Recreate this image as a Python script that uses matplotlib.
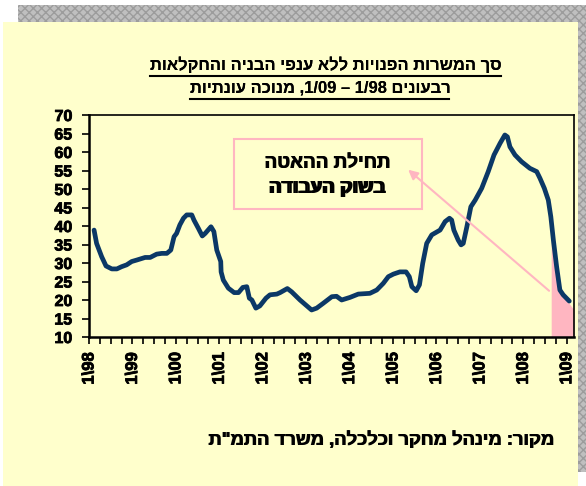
import re
import numpy as np
import matplotlib
matplotlib.use("Agg")
import matplotlib.pyplot as plt
import matplotlib.patheffects as pe
from matplotlib.patches import Rectangle
from matplotlib.lines import Line2D

FAMILY = ['Liberation Sans', 'DejaVu Sans']
plt.rcParams['font.family'] = FAMILY
plt.rcParams['font.weight'] = 'bold'

# months since 1/98 and vacancies (thousands), seasonally adjusted
months = [1.4, 2.1, 3.5, 4.7, 6.3, 7.7, 9.0, 10.4, 11.8, 13.2, 15.5, 16.9,
          18.7, 20.1, 21.5, 22.6, 23.5, 24.2, 25.1, 26.1, 27.0, 28.4, 29.0,
          30.2, 31.3, 32.1, 33.7, 34.5, 35.3, 36.4, 36.5, 37.1, 38.5, 40.1,
          41.3, 42.5, 43.6, 44.3, 45.0, 46.1, 47.2, 48.9, 50.0, 51.9, 52.8,
          54.8, 56.0, 58.3, 61.5, 62.9, 64.7, 67.1, 68.4, 69.8, 72.1, 74.4,
          77.6, 79.5, 81.3, 82.7, 84.1, 85.9, 87.6, 88.5, 89.2, 90.4, 91.3,
          92.2, 93.3, 94.7, 97.0, 98.4, 99.6, 100.2, 100.8, 102.0, 102.8,
          103.4, 104.4, 105.5, 106.7, 108.5, 110.3, 111.9, 113.6, 114.9,
          115.6, 116.3, 117.7, 119.5, 121.8, 123.7, 124.6, 125.8, 126.9,
          127.6, 128.3, 129.2, 130.1, 131.0, 132.7]
vacancies = [38.9, 35.3, 31.7, 29.2, 28.4, 28.4, 29.0, 29.5, 30.4, 30.8, 31.5,
             31.5, 32.4, 32.6, 32.6, 33.5, 37.1, 38.0, 40.3, 42.1, 43.0, 43.0,
             41.6, 39.4, 37.3, 38.0, 39.8, 38.5, 33.5, 30.4, 27.6, 25.4, 23.2,
             22.0, 22.0, 23.4, 23.6, 20.5, 20.0, 17.8, 18.4, 20.5, 21.4, 21.6,
             22.0, 23.1, 22.2, 20.0, 17.3, 17.8, 19.1, 20.9, 21.0, 20.0, 20.7,
             21.6, 21.8, 22.7, 24.5, 26.3, 27.0, 27.6, 27.6, 26.3, 23.6, 22.5,
             24.1, 29.9, 35.3, 37.6, 38.9, 41.2, 42.1, 41.6, 38.9, 36.2, 34.9,
             35.3, 39.8, 45.2, 47.0, 50.2, 54.7, 59.2, 62.4, 64.6, 64.1, 61.4,
             59.2, 57.4, 55.6, 54.7, 52.9, 50.2, 47.0, 42.5, 36.2, 29.0, 22.7,
             21.4, 19.7]

# shaded slowdown period
shade_months = [127.7, 129.2, 130.1, 131.2, 134.0]
shade_values = [36.2, 29.0, 22.5, 21.0, 17.3]

tick_months = list(range(0, 133, 12))
tick_labels = ['1\\98', '1\\99', '1\\00', '1\\01', '1\\02', '1\\03',
               '1\\04', '1\\05', '1\\06', '1\\07', '1\\08', '1\\09']

title1 = 'סך המשרות הפנויות ללא ענפי הבניה והחקלאות'
title2 = 'רבעונים 1/98 – 1/09, מנוכה עונתיות'
note1 = 'תחילת ההאטה'
note2 = 'בשוק העבודה'
source = 'מקור: מינהל מחקר וכלכלה, משרד התמ"ת'


def rtl(s):
    # matplotlib has no bidi: flip the line, keep number runs left-to-right
    r = s[::-1]
    return re.sub(r'[0-9/\\]+', lambda m: m.group(0)[::-1], r)


W, H = 586, 486
yellow = '#FFFFCC'
pink = '#FFB6C1'
navy = '#0B3866'


def ink(s, size):
    # ink columns of the text as Agg really draws it, relative to its anchor
    tf = plt.figure(figsize=(W / 100, H / 100), dpi=100)
    tf.text(10 / W, 0.5, rtl(s), ha='left', va='center', fontsize=size,
            fontweight='bold')
    tf.canvas.draw()
    a = np.asarray(tf.canvas.buffer_rgba())[..., 0]
    plt.close(tf)
    cols = np.where((a < 140).any(axis=0))[0]
    return cols.min() - 10, cols.max() - 10


def fit(s, target):
    x0, x1 = ink(s, 12)
    return 12 * target / (x1 - x0)


fig = plt.figure(figsize=(W / 100, H / 100), dpi=100)
fig.patch.set_facecolor('white')

# textured shadow border and yellow panel
fig.add_artist(Rectangle((18 / W, 1 - 22 / H), 1 - 18 / W, 17 / H,
                         transform=fig.transFigure, facecolor='#BFBFBF',
                         edgecolor='#9C9C9C', hatch='xxxx', linewidth=0,
                         zorder=-3))
fig.add_artist(Rectangle((578 / W, 1 - 472 / H), 8 / W, 467 / H,
                         transform=fig.transFigure, facecolor='#BFBFBF',
                         edgecolor='#9C9C9C', hatch='xxxx', linewidth=0,
                         zorder=-3))
fig.add_artist(Rectangle((3 / W, 0), 575 / W, 1 - 22 / H,
                         transform=fig.transFigure, facecolor=yellow,
                         linewidth=0, zorder=-2))

ax = fig.add_axes([89 / W, 1 - 337 / H, 485 / W, 222 / H])
ax.set_facecolor(yellow)

ax.fill_between(shade_months, shade_values, 10, color=pink, linewidth=0)
ax.plot(months, vacancies, color=navy, linewidth=3.4,
        solid_joinstyle='round', solid_capstyle='round')

ax.annotate('', xy=(87.6, 55.7), xytext=(127.7, 22.0),
            arrowprops=dict(arrowstyle='-|>', color=pink, lw=1.5,
                            mutation_scale=14))

ax.add_patch(Rectangle((0.299, 0.577), 0.388, 0.315, transform=ax.transAxes,
                       facecolor='none', edgecolor=pink, linewidth=1.5))

ax.set_xlim(0, 134)
ax.set_ylim(10, 70)
ax.set_yticks(range(10, 71, 5))
ax.set_xticks(tick_months)
ax.set_xticklabels(tick_labels, rotation=90)
ax.set_xticks(range(0, 134, 3), minor=True)
ax.tick_params(axis='both', which='both', direction='out', length=5,
               width=1.2)
ax.tick_params(axis='x', which='major', pad=6, labelsize=12)
ax.tick_params(axis='y', pad=7, labelsize=11.5)
for lab in ax.get_xticklabels() + ax.get_yticklabels():
    lab.set_fontweight('bold')
    lab.set_path_effects([pe.withStroke(linewidth=0.6, foreground='black')])

ax.spines['left'].set_linewidth(1.8)
ax.spines['bottom'].set_linewidth(1.8)
ax.spines['top'].set_linewidth(1.2)
ax.spines['right'].set_linewidth(1.2)


def heb(s, y, size, center=None, right=None, underline=False):
    x0, x1 = ink(s, size)
    w = x1 - x0 + 1
    left = center - w / 2 if center is not None else right - w
    # hebrew glyphs come out light, so smear them one pixel for weight
    for dx in (0, 1):
        fig.text((left - x0 + dx) / W, 1 - y / H, rtl(s), ha='left',
                 va='center', fontsize=size, fontweight='bold')
    if underline:
        fig.add_artist(Line2D([left / W, (left + w) / W],
                              [1 - (y + 11) / H] * 2,
                              transform=fig.transFigure, color='black',
                              linewidth=1.5))


title_size = fit(title1, 349)
heb(title1, 65, title_size, center=325, underline=True)
heb(title2, 88, title_size, center=319, underline=True)
note_size = fit(note1, 122)
heb(note1, 163, note_size, center=327)
heb(note2, 188, note_size, center=327)
heb(source, 440, fit(source, 344), right=552)

fig.savefig('out.png', dpi=100)
